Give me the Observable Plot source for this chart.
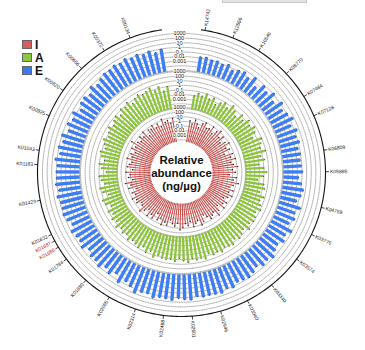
<!DOCTYPE html>
<html><head><meta charset="utf-8">
<script src="https://cdn.jsdelivr.net/npm/d3@7"></script>
<script src="https://cdn.jsdelivr.net/npm/@observablehq/plot@0.6"></script>
<style>
body{margin:0;background:#fff;font-family:"Liberation Sans",Arial,Helvetica,sans-serif;}
#wrap{position:relative;width:365px;height:350px;overflow:hidden;background:#fff;}
#chart{position:absolute;left:0;top:0;}
#legend{position:absolute;left:22px;top:38px;}
#legend .row{display:flex;align-items:center;height:13px;}
#legend .sw{width:10px;height:9px;border:1px solid #666;box-sizing:border-box;margin-right:3px;}
#legend .lb{font-weight:bold;font-size:12px;color:#111;line-height:12px;}
#title{position:absolute;left:222px;top:-9px;width:85px;height:12px;background:#e4e4e4;border:1px solid #c8c8c8;box-sizing:border-box;}
</style></head><body>
<div id="wrap"><div id="chart"></div><div id="legend"></div><div id="title"></div></div>
<script>
// ---- data (relative abundance, ng/µg) ----
const ringNames = ["I", "A", "E"];
const ringColors = ["#c8524f", "#8cc43c", "#3f7ef2"];
const legendColors = ["#d35f5f", "#8dc63f", "#3b7bf0"];

const valuesI = [
2, 0.5, 5, 1, 0.2, 3, 8, 0.8,
1.5, 10, 0.4, 4, 20, 1, 6, 0.3,
2.5, 12, 0.7, 3, 0.1, 5, 1.2, 9,
0.6, 2, 15, 0.9, 4, 0.2, 7, 1.8,
30, 3, 0.5, 6, 1, 11, 2, 0.4,
5, 1.4, 8, 0.3, 3, 18, 0.8, 2.2,
6, 1, 0.2, 4, 14, 0.7, 2.5, 9,
0.5, 3.5, 1.1, 7, 25, 0.9, 4.5, 1.6,
0.3, 6, 2, 12, 0.6, 3, 0.15, 5,
1.3, 8, 0.4, 2.8, 16, 1, 0.5, 4,
2, 10, 0.8, 3.2, 0.25, 6.5, 1.7, 22,
0.45, 3, 1.2, 9, 0.35, 5.5, 2.4, 0.7,
13, 1.5, 4, 0.55, 7.5, 2, 40, 3,
0.9, 6, 1.4, 11, 0.3, 4.2, 2.6, 8.5,
1.1, 5, 0.6, 19, 2.3, 3.8, 0.75, 6
];
const valuesA = [
0.01, 0.05, 0.02, 0.1, 0.015, 0.06, 0.004, 0.03,
0.1, 0.02, 0.3, 0.06, 0.01, 0.2, 0.04, 0.4,
0.1, 0.6, 0.2, 0.02, 1, 0.3, 0.1, 0.8,
0.05, 0.2, 0.01, 0.1, 0.4, 0.08, 0.005, 0.15,
0.3, 0.04, 0.6, 0.15, 0.5, 1.2, 0.2, 0.6,
1, 0.3, 2, 0.2, 0.6, 1.5, 0.4, 2.5,
1.2, 0.6, 3, 1, 2, 0.5, 4, 1.5,
2.5, 1, 5, 2, 0.6, 3, 1.2, 2,
1.5, 0.6, 3, 0.3, 1.2, 0.2, 0.8, 0.4,
0.2, 0.6, 0.1, 0.3, 0.08, 0.4, 0.05, 0.2,
0.03, 0.15, 0.01, 0.08, 0.2, 0.005, 0.05, 0.15,
0.008, 0.04, 0.1, 0.003, 0.03, 0.12, 0.01, 0.06,
0.2, 0.03, 0.08, 0.3, 0.05, 0.15, 0.5, 0.1,
0.4, 0.8, 0.2, 1.5, 0.6, 2.5, 0.3, 1.2,
3, 1, 2, 5, 0.6, 2.5, 0.15, 1
];
const valuesE = [
0.02, 0.03, 0.015, 0.02, 0.01, 0.03, 0.005, 0.02,
0.05, 0.01, 0.1, 0.003, 0.08, 0.02, 0.2, 0.01,
0.3, 0.04, 0.15, 0.6, 0.05, 0.4, 0.08, 0.2,
0.05, 0.1, 0.06, 0.08, 0.15, 0.02, 0.1, 0.4,
0.2, 0.04, 0.6, 0.1, 0.3, 0.05, 1, 0.15,
0.5, 0.08, 0.2, 1.2, 0.3, 0.6, 0.1, 0.4,
1, 0.6, 0.4, 2, 0.8, 3, 2, 1.5,
2, 1, 4, 3, 1.5, 5, 3, 2.5,
6, 1.5, 2, 8, 1, 0.3, 3, 0.1,
0.8, 0.2, 1.5, 0.4, 0.5, 0.1, 1, 0.3,
0.4, 1, 0.15, 0.6, 1.5, 0.8, 0.8, 2.5,
0.6, 2, 1.2, 1.2, 0.8, 3, 0.4, 1.5,
0.3, 1.2, 0.1, 0.6, 0.15, 0.6, 0.05, 0.3,
0.4, 0.1, 1, 0.2, 0.6, 1.5, 1.2, 2.5,
1.2, 3, 1, 2, 0.6, 1.5, 0.3, 1
];
const koLabels = ["K14742","K12556","K10540","K08770","K07484","K07126","K06809","K05885","K04759","K03775","K03574","K03340","K03040","K02946","K02601","K02488","K02314","K02065","K01880","K01784","K01686","K01687","K01632","K01423","K01163","K01043","K00925","K00820","K00656","K00372","K00134"];
const koIndex = [0,4,8,13,17,20,25,28,33,37,41,46,50,54,58,62,66,70,74,78,80,81,82,87,92,94,99,103,107,111,115];
const koHighlighted = ["K01686","K01687"];
const scaleTicks = [1000, 100, 10, 1, 0.1, 0.01, 0.001];
const scaleTickText = ["1000", "100", "10", "1", "0.1", "0.01", "0.001"];
const centerTitle = "Relative\nabundance\n(ng/µg)";

// ---- geometry helpers ----
const ringValues = [valuesI, valuesA, valuesE];
const ringBase = [28, 64, 102];
const ringSpan = 37;
const ringWidth = [1.1, 2.3, 3.4];
const outerR = 144;
const N = valuesE.length;
const band = d3.scaleBand().domain(d3.range(N)).range([8, 352]);
const thetaOf = i => band(i) + band.bandwidth() / 2;
const lonOf = t => 180 - t;
const latOf = r => 90 - r;
const radial = k => d3.scaleLog().domain([1e-5, 1e3]).range([ringBase[k], ringBase[k] + ringSpan]);

const marks = [];
const grid = [];
ringNames.forEach((_, k) => {
  const rs = radial(k);
  for (let d = -5; d <= 3; d++) grid.push(d3.geoCircle().center([0, 90]).radius(rs(10 ** d)).precision(0.5)());
});
marks.push(Plot.geo(grid, {fill: "none", stroke: "#555", strokeWidth: 0.5, strokeDasharray: "0.7,1.1"}));

ringNames.forEach((name, k) => {
  const rs = radial(k);
  const bars = ringValues[k].map((v, i) => ({
    lon: lonOf(thetaOf(i)), lat0: latOf(ringBase[k]), lat1: latOf(rs(v)), v
  })).filter(d => d.v > 0);
  marks.push(Plot.link(bars, {x1: "lon", y1: "lat0", x2: "lon", y2: "lat1", stroke: ringColors[k], strokeWidth: ringWidth[k], strokeLinecap: "butt"}));
  marks.push(Plot.dot(bars, {x: "lon", y: "lat1", r: k === 0 ? 0.7 : 0.5, fill: "#222", stroke: "none"}));
});

marks.push(Plot.geo(d3.geoCircle().center([0, 90]).radius(31)(), {fill: "white", stroke: "none"}));

const arcCoords = d3.range(8, 352.01, 1).map(t => [lonOf(t), latOf(outerR)]);
marks.push(Plot.geo({type: "LineString", coordinates: arcCoords}, {stroke: "#111", strokeWidth: 1.1, fill: "none"}));

const kos = koLabels.map((id, j) => {
  const t = thetaOf(koIndex[j]);
  return {id, t, lon: lonOf(t), hl: koHighlighted.includes(id)};
});
marks.push(Plot.link(kos, {x1: "lon", y1: latOf(outerR), x2: "lon", y2: latOf(outerR + 3.5), stroke: "#111", strokeWidth: 0.8}));
const right = kos.filter(d => d.t < 180), left = kos.filter(d => d.t >= 180);
marks.push(Plot.text(right, {x: "lon", y: latOf(outerR + 4.5), text: "id", rotate: d => d.t - 90, textAnchor: "start", fontSize: 5, fill: d => d.hl ? "#b02020" : "#222"}));
marks.push(Plot.text(left, {x: "lon", y: latOf(outerR + 4.5), text: "id", rotate: d => d.t + 90, textAnchor: "end", fontSize: 5, fill: d => d.hl ? "#b02020" : "#222"}));

const scaleLabels = [];
ringNames.forEach((_, k) => {
  const rs = radial(k);
  scaleTicks.forEach((v, j) => scaleLabels.push({lon: 180, lat: latOf(rs(v)), text: scaleTickText[j]}));
});
marks.push(Plot.text(scaleLabels, {x: "lon", y: "lat", text: "text", fontSize: 5.5, fill: "#111", stroke: "white", strokeWidth: 1.5, dx: -2}));

marks.push(Plot.text([centerTitle], {x: 0, y: 90, text: d => d, fontSize: 11.5, fontWeight: "bold", fill: "#111", lineHeight: 1.15}));

const chart = Plot.plot({
  width: 365, height: 350,
  marginLeft: 31, marginRight: 34, marginTop: 22, marginBottom: 28,
  style: {background: "transparent", fontFamily: "'Liberation Sans', Arial, sans-serif"},
  projection: {
    type: "azimuthal-equidistant",
    rotate: [0, -90],
    domain: d3.geoCircle().center([0, 90]).radius(150)(),
    clip: false
  },
  marks
});
document.getElementById("chart").appendChild(chart);

const lg = document.getElementById("legend");
ringNames.forEach((n, k) => {
  const row = document.createElement("div"); row.className = "row";
  const sw = document.createElement("div"); sw.className = "sw"; sw.style.background = legendColors[k];
  const lb = document.createElement("div"); lb.className = "lb"; lb.textContent = n;
  row.appendChild(sw); row.appendChild(lb); lg.appendChild(row);
});
</script>
</body></html>
